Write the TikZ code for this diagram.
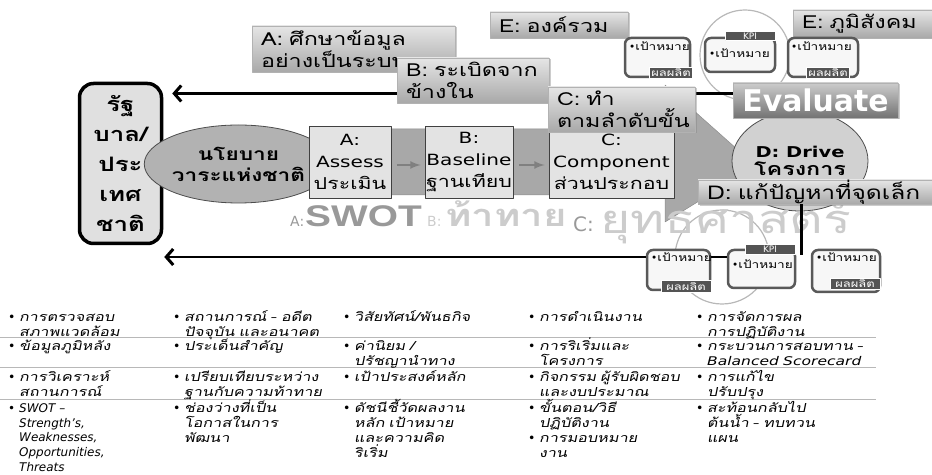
\documentclass[tikz,border=0pt]{standalone}
\usepackage{fontspec}
\setmainfont{DejaVu Sans}
\newfontfamily\widefont[FakeStretch=1.3]{DejaVu Sans}
\newfontfamily\thaifont[Script=Thai,FakeStretch=1.3]{Loma}
\newfontfamily\thaiit[Script=Thai,FakeStretch=1.3,FakeSlant=0.2]{Loma}
\newfontfamily\wmfont[FakeStretch=1.3]{Liberation Sans}
\usetikzlibrary{arrows.meta,shapes.geometric,shadows}

\definecolor{govfill}{gray}{0.88}
\definecolor{policyfill}{gray}{0.70}
\definecolor{bandfill}{gray}{0.66}
\definecolor{boxfill}{gray}{0.89}
\definecolor{drivefill}{gray}{0.82}
\definecolor{labtop}{gray}{0.90}
\definecolor{labbot}{gray}{0.66}
\definecolor{evaltop}{gray}{0.80}
\definecolor{evalbot}{gray}{0.45}
\definecolor{kpiline}{gray}{0.35}
\definecolor{kpifill}{gray}{0.97}
\definecolor{tagfill}{gray}{0.33}
\definecolor{ringline}{gray}{0.72}
\definecolor{ruleline}{gray}{0.72}
\definecolor{arrowgray}{gray}{0.50}
\definecolor{wmdark}{gray}{0.60}
\definecolor{wmlight}{gray}{0.80}

\newcommand{\cellbul}{\makebox[11bp][l]{\rmfamily\upshape •}}
\newcommand{\cellind}{\hspace*{11bp}}
\newcommand{\celldash}{{\rmfamily\itshape –}}

\begin{document}
\begin{tikzpicture}[>=latex,line join=bevel,
  govbox/.style={draw,line width=3.5bp,rounded corners=14bp,fill=govfill,inner sep=0pt,
    minimum width=82bp,minimum height=160bp,align=center,
    font=\thaifont\bfseries\fontsize{20}{30}\selectfont},
  policy/.style={ellipse,draw=black!70,line width=0.8bp,fill=policyfill,inner sep=0pt,
    minimum width=137bp,minimum height=78bp,align=center,
    font=\thaifont\bfseries\fontsize{17.5}{21}\selectfont},
  stage/.style={draw=black!75,line width=0.8bp,fill=boxfill,inner sep=0pt,
    minimum height=72bp,align=center,font=\widefont\fontsize{15.5}{22}\selectfont},
  drive/.style={ellipse,draw=black!70,line width=0.8bp,fill=drivefill,inner sep=0pt,
    minimum width=136bp,minimum height=100bp,align=center,
    font=\widefont\bfseries\fontsize{15}{18}\selectfont},
  lab/.style={draw=black!30,line width=0.5bp,top color=labtop,bottom color=labbot,
    drop shadow={opacity=0.4,shadow xshift=1.5bp,shadow yshift=-1.5bp},
    inner xsep=9bp,inner ysep=0pt,align=left,font=\thaifont\fontsize{18}{22}\selectfont},
  evalbox/.style={lab,top color=evaltop,bottom color=evalbot,align=center,text=white,
    font=\bfseries\fontsize{30}{32}\selectfont},
  kpibox/.style={draw=kpiline,line width=2.5bp,rounded corners=6bp,fill=kpifill,inner sep=0pt},
  kpitext/.style={anchor=west,inner sep=1bp,font=\thaifont\fontsize{10.5}{12}\selectfont},
  tag/.style={draw=white,line width=1bp,fill=tagfill,text=white,inner sep=1.5bp,
    font=\thaifont\fontsize{10}{11}\selectfont},
  ring/.style={draw=ringline,line width=1.2bp},
  govarrow/.style={draw=black,line width=2.4bp,-{Straight Barb[length=7bp,width=16bp,line width=3bp]}},
  midarrow/.style={->,draw=arrowgray,line width=2.5bp},
  wm/.style={inner sep=0pt,anchor=base west},
  cell/.style={anchor=base west,inner sep=0pt,text width=230bp,align=left,
    font=\thaiit\fontsize{12.5}{15}\selectfont},
]
\useasboundingbox (0bp,0bp) rectangle (932bp,475bp);
%%
\draw [ring] (745bp,420bp) circle (45bp);
  \draw [ring] (722bp,218bp) circle (47bp);
  \fill [bandfill,draw=black!45,line width=0.5bp] (320bp,346bp) -- (665bp,346bp) -- (665bp,390bp) -- (756bp,309bp) -- (665bp,253bp) -- (665bp,280bp) -- (320bp,280bp) -- cycle;
%
\node (gov) at (120.5bp,311.5bp) [govbox] {รัฐ\\บาล/\\ประ\\เทศ\\ชาติ};
  \node (policy) at (238.5bp,311bp) [policy] {นโยบาย\\วาระแห่งชาติ};
  \node (stage_a) at (350bp,313bp) [stage,minimum width=82bp] {A:\\Assess\\{\thaifont\fontsize{16.5}{22}\selectfont ประเมิน}};
  \node (stage_b) at (469bp,313bp) [stage,minimum width=88bp] {B:\\Baseline\\{\thaifont\fontsize{16.5}{22}\selectfont ฐานเทียบ}};
  \node (stage_c) at (611.5bp,313bp) [stage,minimum width=125bp] {C:\\Component\\{\thaifont\fontsize{16.5}{22}\selectfont ส่วนประกอบ}};
  \draw [midarrow] ([xshift=6bp,yshift=-3bp]stage_a.east) -- ([xshift=-4bp,yshift=-3bp]stage_b.west);
  \draw [midarrow] ([xshift=6bp,yshift=-3bp]stage_b.east) -- ([xshift=-4bp,yshift=-3bp]stage_c.west);
  \node (drive) at (800bp,314bp) [drive] {D: Drive\\{\thaifont\fontsize{18}{18}\selectfont โครงการ}};
%
\node (wm_a) at (290bp,248bp) [wm,text=wmdark,font=\fontsize{14}{14}\selectfont] {A:};
  \node (wm_swot) at (305bp,248bp) [wm,text=wmdark,font=\wmfont\bfseries\fontsize{30}{30}\selectfont] {SWOT};
  \node (wm_b) at (427bp,248bp) [wm,text=wmlight,font=\fontsize{14}{14}\selectfont] {B:};
  \node (wm_chal) at (445bp,248bp) [wm,text=wmlight,font=\thaifont\bfseries\fontsize{31}{31}\selectfont] {ท้าทาย};
  \node (wm_c) at (573bp,243bp) [wm,text=wmdark,font=\fontsize{20}{20}\selectfont] {C:};
  \node (wm_strat) at (600bp,241bp) [wm,text=wmlight,font=\thaifont\fontsize{40}{40}\selectfont] {ยุทธศาสตร์};
%
\node (evaluate) at (815.5bp,374.5bp) [evalbox,text width=147bp,minimum height=35bp] {Evaluate};
  \node (kpi_bl) at (678.5bp,205bp) [kpibox,minimum width=63bp,minimum height=40bp] {};
  \node (kpi_bm) at (761.5bp,206bp) [kpibox,minimum width=67bp,minimum height=38bp] {};
  \node (kpi_br) at (846bp,204bp) [kpibox,minimum width=68bp,minimum height=42bp] {};
  \coordinate (eval_in) at ([yshift=7bp]evaluate.west);
  \coordinate (kpi_in) at ([yshift=13bp]kpi_bl.west);
  \draw [govarrow,shorten >=9bp] (eval_in) -- (eval_in -| gov.east);
  \draw [govarrow,shorten >=1bp] (kpi_in) -- (kpi_in -| gov.east);
  \draw [line width=2.4bp] (kpi_in -| kpi_bl.east) -- (kpi_in -| kpi_bm.west);
%
\node (lab_a) at (353.5bp,426bp) [lab,text width=185bp,minimum height=46bp] {A: ศึกษาข้อมูล\\อย่างเป็นระบบ};
  \node (lab_b) at (473bp,394.5bp) [lab,text width=134bp,minimum height=45bp] {B: ระเบิดจาก\\ข้างใน};
  \node (lab_c) at (621.5bp,365.5bp) [lab,text width=129bp,minimum height=45bp] {C: ทำ\\ตามลำดับขั้น};
  \node (lab_e1) at (559bp,450bp) [lab,text width=120bp,minimum height=26bp] {E: องค์รวม};
  \node (lab_e2) at (862.5bp,451bp) [lab,text width=121bp,minimum height=28bp] {E: ภูมิสังคม};
  \node (lab_d) at (815bp,283bp) [lab,text width=216bp,minimum height=24bp,font=\thaifont\fontsize{19}{22}\selectfont] {D: แก้ปัญหาที่จุดเล็ก};
%
\node (kpi_tl) at (657.5bp,417.5bp) [kpibox,minimum width=65bp,minimum height=39bp] {};
  \node (kpi_tm) at (740bp,420bp) [kpibox,minimum width=70bp,minimum height=34bp] {};
  \node (kpi_tr) at (823bp,417.5bp) [kpibox,minimum width=70bp,minimum height=39bp] {};
  \node (kpi_tl_txt) at (628bp,429bp) [kpitext] {{\rmfamily •}เป้าหมาย};
  \node (kpi_tm_txt) at (708bp,422bp) [kpitext] {{\rmfamily •}เป้าหมาย};
  \node (kpi_tr_txt) at (790bp,429bp) [kpitext] {{\rmfamily •}เป้าหมาย};
  \node (out_tl) at (671bp,402bp) [tag,minimum width=42bp] {ผลผลิต};
  \node (kpi_tag_t) at (750bp,439bp) [tag,minimum width=50bp,font=\fontsize{9}{10}\selectfont] {KPI};
  \node (out_tr) at (828bp,402bp) [tag,minimum width=42bp] {ผลผลิต};
  \node (kpi_bl_txt) at (650bp,218bp) [kpitext] {{\rmfamily •}เป้าหมาย};
  \node (kpi_bm_txt) at (731bp,211bp) [kpitext] {{\rmfamily •}เป้าหมาย};
  \node (kpi_br_txt) at (815bp,218bp) [kpitext] {{\rmfamily •}เป้าหมาย};
  \node (out_bl) at (686bp,188.5bp) [tag,minimum width=50bp] {ผลผลิต};
  \node (kpi_tag_b) at (770bp,225.5bp) [tag,minimum width=50bp,font=\fontsize{9}{10}\selectfont] {KPI};
  \node (out_br) at (855bp,191bp) [tag,minimum width=50bp] {ผลผลิต};
  \coordinate (d_drop) at ([xshift=5bp]kpi_bm.north east);
  \draw [line width=3bp] (d_drop |- lab_d.south) -- ([yshift=-6bp]d_drop);
%
\draw [ruleline,line width=1bp] (0bp,137bp) -- (876bp,137bp);
  \draw [ruleline,line width=1bp] (0bp,107bp) -- (876bp,107bp);
  \draw [ruleline,line width=1bp] (0bp,75bp) -- (876bp,75bp);
%
\node (c11) at (8bp,153.5bp) [cell] {\cellbul การตรวจสอบ\\\cellind สภาพแวดล้อม};
  \node (c12) at (173bp,153.5bp) [cell] {\cellbul สถานการณ์ \celldash{} อดีต\\\cellind ปัจจุบัน และอนาคต};
  \node (c13) at (343bp,153.5bp) [cell] {\cellbul วิสัยทัศน์/พันธกิจ};
  \node (c14) at (528bp,153.5bp) [cell] {\cellbul การดำเนินงาน};
  \node (c15) at (696bp,153.5bp) [cell] {\cellbul การจัดการผล\\\cellind การปฏิบัติงาน};
  \node (c21) at (8bp,124.5bp) [cell] {\cellbul ข้อมูลภูมิหลัง};
  \node (c22) at (173bp,124.5bp) [cell] {\cellbul ประเด็นสำคัญ};
  \node (c23) at (343bp,124.5bp) [cell] {\cellbul ค่านิยม /\\\cellind ปรัชญานำทาง};
  \node (c24) at (528bp,124.5bp) [cell] {\cellbul การริเริ่มและ\\\cellind โครงการ};
  \node (c25) at (696bp,124.5bp) [cell] {\cellbul กระบวนการสอบทาน \celldash\\\cellind {\widefont\itshape\fontsize{12}{15}\selectfont Balanced Scorecard}};
  \node (c31) at (8bp,93.5bp) [cell] {\cellbul การวิเคราะห์\\\cellind สถานการณ์};
  \node (c32) at (173bp,93.5bp) [cell] {\cellbul เปรียบเทียบระหว่าง\\\cellind ฐานกับความท้าทาย};
  \node (c33) at (343bp,93.5bp) [cell] {\cellbul เป้าประสงค์หลัก};
  \node (c34) at (528bp,93.5bp) [cell] {\cellbul กิจกรรม ผู้รับผิดชอบ\\\cellind และงบประมาณ};
  \node (c35) at (696bp,93.5bp) [cell] {\cellbul การแก้ไข\\\cellind ปรับปรุง};
  \node (c41) at (8bp,62.5bp) [cell,font=\itshape\fontsize{12}{14.8}\selectfont] {\cellbul SWOT –\\\cellind Strength's,\\\cellind Weaknesses,\\\cellind Opportunities,\\\cellind Threats};
  \node (c42) at (173bp,62.5bp) [cell] {\cellbul ช่องว่างที่เป็น\\\cellind โอกาสในการ\\\cellind พัฒนา};
  \node (c43) at (343bp,62.5bp) [cell] {\cellbul ดัชนีชี้วัดผลงาน\\\cellind หลัก เป้าหมาย\\\cellind และความคิด\\\cellind ริเริ่ม};
  \node (c44) at (528bp,62.5bp) [cell] {\cellbul ขั้นตอน/วิธี\\\cellind ปฏิบัติงาน\\\cellbul การมอบหมาย\\\cellind งาน};
  \node (c45) at (696bp,62.5bp) [cell] {\cellbul สะท้อนกลับไป\\\cellind ต้นน้ำ \celldash{} ทบทวน\\\cellind แผน};
%
\end{tikzpicture}
\end{document}
